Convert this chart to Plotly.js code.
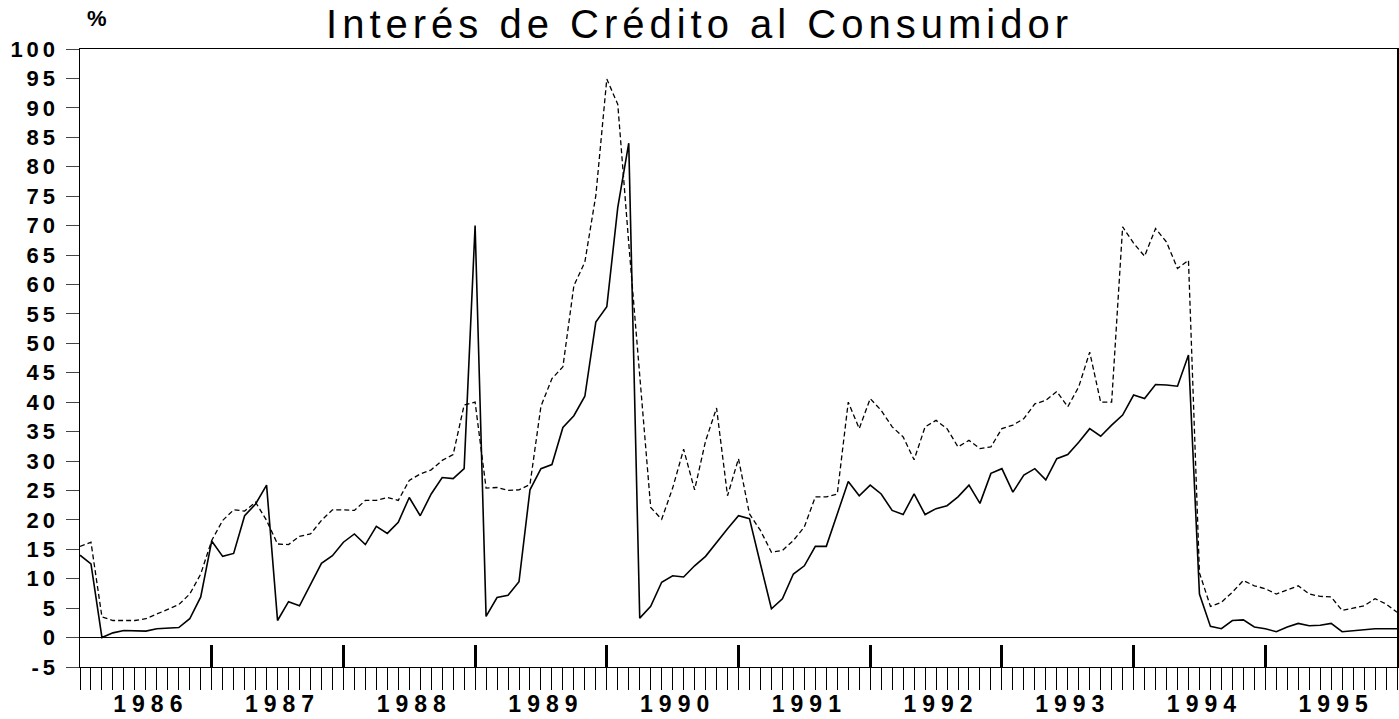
<!DOCTYPE html>
<html>
<head>
<meta charset="utf-8">
<script src="https://cdn.plot.ly/plotly-3.0.1.min.js"></script>
<style>
  html, body { margin: 0; padding: 0; background: #fff; }
  #chart { width: 1399px; height: 719px; }
  .xtick text { letter-spacing: 6px; }
  .ytick text { letter-spacing: 4px; }
  .gtitle { letter-spacing: 5px; }
</style>
</head>
<body>
<div id="chart"></div>
<script>
// Years shown on the x axis (one label per year)
const years = ["1986", "1987", "1988", "1989", "1990", "1991", "1992", "1993", "1994", "1995"];

const seriesSolid = [
  14.0, 12.5, 0.0, 0.8, 1.2, 1.2, 1.1, 1.5, 1.6, 1.7,
  3.2, 6.9, 16.4, 13.8, 14.3, 20.7, 22.7, 25.9, 2.9, 6.1,
  5.4, 9.1, 12.6, 13.9, 16.2, 17.6, 15.8, 18.9, 17.7, 19.6,
  23.8, 20.7, 24.4, 27.2, 27.0, 28.7, 70.0, 3.6, 6.8, 7.2,
  9.5, 25.1, 28.7, 29.4, 35.7, 37.7, 41.0, 53.6, 56.2, 73.1,
  84.0, 3.3, 5.3, 9.4, 10.5, 10.3, 12.2, 13.8, 16.2, 18.5,
  20.7, 20.2, 12.5, 4.9, 6.6, 10.8, 12.2, 15.5, 15.5, 21.0,
  26.5, 24.1, 25.9, 24.4, 21.6, 20.9, 24.4, 20.9, 21.9, 22.4,
  23.9, 25.9, 22.8, 27.9, 28.7, 24.7, 27.6, 28.7, 26.8, 30.4,
  31.1, 33.2, 35.5, 34.2, 36.1, 37.8, 41.2, 40.6, 43.0, 42.9,
  42.7, 48.0, 7.4, 1.9, 1.5, 2.9, 3.0, 1.8, 1.5, 1.0,
  1.8, 2.4, 2.0, 2.1, 2.4, 1.0, 1.2, 1.3, 1.5, 1.5,
  1.5
];

const seriesDashed = [
  15.5, 16.2, 3.5, 2.9, 2.9, 2.9, 3.2, 4.0, 4.9, 5.6,
  7.4, 10.8, 16.5, 19.9, 21.7, 21.5, 23.0, 19.9, 15.9, 15.8,
  17.2, 17.6, 19.9, 21.7, 21.7, 21.6, 23.3, 23.3, 23.8, 23.3,
  26.7, 27.8, 28.5, 30.1, 31.1, 39.5, 40.0, 25.4, 25.5, 25.0,
  25.1, 26.0, 39.3, 44.0, 46.0, 59.8, 63.8, 75.1, 94.9, 90.6,
  67.0, 45.0, 22.1, 20.1, 25.4, 32.0, 25.1, 33.4, 39.0, 24.1,
  30.4, 21.0, 18.2, 14.5, 14.8, 16.5, 18.8, 23.9, 23.9, 24.4,
  40.0, 35.5, 40.6, 38.6, 35.8, 34.1, 30.2, 35.8, 36.9, 35.5,
  32.4, 33.5, 32.1, 32.4, 35.5, 36.1, 37.2, 39.7, 40.3, 41.8,
  39.2, 42.6, 48.5, 40.0, 40.0, 69.8, 67.0, 64.8, 69.5, 67.2,
  62.7, 64.1, 11.0, 5.3, 6.0, 7.7, 9.7, 8.8, 8.3, 7.4,
  8.1, 8.8, 7.4, 7.0, 6.9, 4.6, 5.0, 5.4, 6.6, 5.7,
  4.3
];

// Y axis tick values and labels
const yTickVals = [-5, 0, 5, 10, 15, 20, 25, 30, 35, 40, 45, 50, 55, 60, 65, 70, 75, 80, 85, 90, 95, 100];
const yTickText = ["-5", "0", "5", "10", "15", "20", "25", "30", "35", "40", "45", "50", "55", "60", "65", "70", "75", "80", "85", "90", "95", "100"];

const titleText = "Interés de Crédito al Consumidor";
const unitText = "%";

// ---- derived helpers (positions on the month-index axis) ----
const nMonths = seriesSolid.length - 1;           // 120 monthly steps
const monthIdx = seriesSolid.map((_, i) => i);     // 0..120
const monthTickText = monthIdx.map(i => (i % 12 === 6 && years[Math.floor(i / 12)]) ? years[Math.floor(i / 12)] : "");
const yearBounds = years.map((_, k) => (k + 1) * 12);

const FONT = "Liberation Sans, Arial, Helvetica, sans-serif";

const traces = [
  {
    x: monthIdx, y: seriesSolid, type: "scatter", mode: "lines",
    name: "Serie continua",
    line: { color: "#000", width: 1.6 },
    hoverinfo: "skip"
  },
  {
    x: monthIdx, y: seriesDashed, type: "scatter", mode: "lines",
    name: "Serie punteada",
    line: { color: "#000", width: 1.3, dash: "5px,3px" },
    hoverinfo: "skip"
  },
  {
    // empty carrier so the year-boundary tick axis is drawn
    x: [], y: [], type: "scatter", mode: "lines",
    xaxis: "x2", yaxis: "y", showlegend: false, hoverinfo: "skip"
  }
];

const layout = {
  width: 1399, height: 719,
  margin: { l: 80, r: 2, t: 49, b: 52, pad: 0 },
  paper_bgcolor: "#fff", plot_bgcolor: "#fff",
  showlegend: false,
  title: {
    text: titleText,
    font: { family: FONT, size: 40, color: "#000" },
    x: 0.5, xref: "container", xanchor: "center",
    y: 0.9666, yref: "container", yanchor: "middle"
  },
  xaxis: {
    range: [0, nMonths],
    tickmode: "array", tickvals: monthIdx, ticktext: monthTickText,
    ticks: "outside", ticklen: 22, tickwidth: 1, tickcolor: "#000",
    ticklabelstandoff: -6, ticklabelshift: 5,
    showline: true, linecolor: "#000", linewidth: 1, mirror: true,
    showgrid: false, zeroline: false,
    tickfont: { family: FONT, size: 23, color: "#000", weight: "bold" },
    tickangle: 0
  },
  xaxis2: {
    range: [0, nMonths],
    overlaying: "x", anchor: "y", side: "bottom",
    tickmode: "array", tickvals: yearBounds,
    ticks: "inside", ticklen: 22, tickwidth: 3, tickcolor: "#000",
    showticklabels: false, showline: false, showgrid: false, zeroline: false
  },
  yaxis: {
    range: [-5, 100],
    tickmode: "array", tickvals: yTickVals, ticktext: yTickText,
    ticks: "outside", ticklen: 13, tickwidth: 1, tickcolor: "#444",
    ticklabelstandoff: 2,
    showline: true, linecolor: "#000", linewidth: 1.5, mirror: true,
    showgrid: false,
    zeroline: true, zerolinecolor: "#000", zerolinewidth: 1.3,
    tickfont: { family: FONT, size: 22, color: "#000", weight: "bold" }
  },
  annotations: [
    {
      text: unitText, xref: "paper", yref: "paper",
      x: 0.013, y: 1.05, xanchor: "center", yanchor: "middle",
      showarrow: false,
      font: { family: FONT, size: 22, color: "#000", weight: "bold" }
    }
  ]
};

Plotly.newPlot("chart", traces, layout, { staticPlot: true, displayModeBar: false });
</script>
</body>
</html>
